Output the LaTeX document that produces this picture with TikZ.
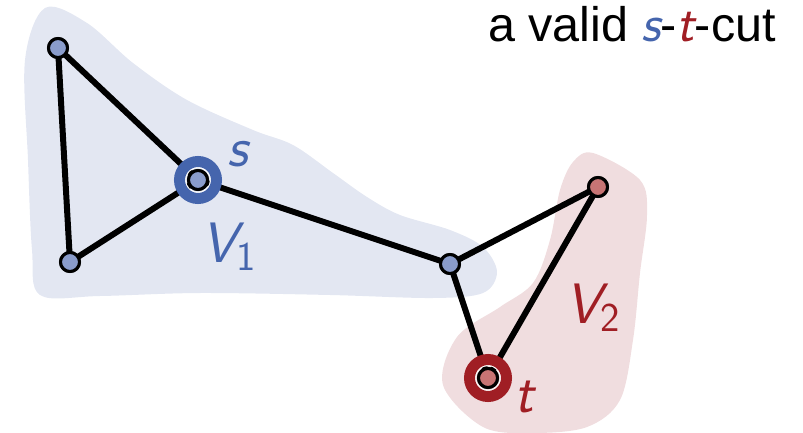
\documentclass[tikz,border=0pt]{standalone}
\usepackage{fontspec}
\setmainfont{Liberation Sans}
\newfontfamily\lmsans{Latin Modern Sans}
\definecolor{bblob}{HTML}{E3E7F2}
\definecolor{rblob}{HTML}{F0DDDF}
\definecolor{bnode}{HTML}{8A9CCB}
\definecolor{rnode}{HTML}{C87474}
\definecolor{bdark}{HTML}{4565AD}
\definecolor{rdark}{HTML}{A01E24}
\newcommand{\mvar}[1]{{\lmsans\itshape #1}}
\tikzset{
  vtx/.style={circle,draw=black,line width=3pt,minimum size=19pt,inner sep=0pt},
  bv/.style={vtx,fill=bnode},
  rv/.style={vtx,fill=rnode},
  edge/.style={line width=6pt,black},
  ringstyle/.style={line width=11pt},
  lbl/.style={inner sep=0pt,font=\fontsize{57}{60}\selectfont}
}
\begin{document}
\begin{tikzpicture}[x=1pt,y=-1pt]
\useasboundingbox (0,0) rectangle (803,433);
% blobs
\fill[bblob] plot[smooth cycle,tension=0.55] coordinates {
 (45,8) (87,23) (133,63) (187,100) (253,130) (293,145) (333,173) (367,197)
 (400,215) (450,230) (483,247) (497,272) (483,293) (433,298) (330,295)
 (200,293) (100,296) (40,295) (32,250) (28,160) (25,60)};
\fill[rblob] plot[smooth cycle,tension=0.55] coordinates {
 (593,153) (640,180) (647,215) (640,273) (633,340) (620,400) (587,427)
 (533,433) (483,427) (443,385) (457,337) (500,307) (533,283) (550,240)
 (560,190) (573,162)};
% vertices
\node[bv] (a) at (58,48) {};
\node[bv] (b) at (70,262) {};
\node[bv] (s) at (198,180) {};
\node[bv] (m) at (450,264) {};
\node[rv] (r) at (598,187) {};
\node[rv] (t) at (488,378) {};
% edges
\draw[edge] (a.center) -- (b.center);
\draw[edge] (a.center) -- (s.center);
\draw[edge] (b.center) -- (s.center);
\draw[edge] (s.center) -- (m.center);
\draw[edge] (m.center) -- (r.center);
\draw[edge] (m.center) -- (t.center);
\draw[edge] (r.center) -- (t.center);
% redraw vertices on top
\foreach \n/\st in {a/bv,b/bv,s/bv,m/bv,r/rv,t/rv}
  \node[\st] at (\n) {};
% rings
\draw[white,line width=2pt] (s) circle[radius=13pt];
\draw[bdark,ringstyle] (s) circle[radius=18.5pt];
\draw[white,line width=2pt] (t) circle[radius=13pt];
\draw[rdark,ringstyle] (t) circle[radius=18.5pt];
% labels
\node[lbl,anchor=base west,text=bdark] (slab) at (227,167) {\mvar{s}};
\node[lbl,anchor=base west,text=bdark] (v1) at (201,262) {\mvar{V}\raisebox{-8pt}{\fontsize{41}{44}\selectfont\lmsans 1}};
\node[lbl,anchor=base west,text=rdark] (tlab) at (514,412) {\mvar{t}};
\node[lbl,anchor=base west,text=rdark] (v2) at (565,323) {\mvar{V}\raisebox{-8pt}{\fontsize{41}{44}\selectfont\lmsans 2}};
\node[inner sep=0pt,anchor=base east,font=\fontsize{48.5}{52}\selectfont] (title) at (776,42)
  {a valid {\color{bdark}\fontsize{53}{54}\selectfont\mvar{s}}-{\color{rdark}\fontsize{53}{54}\selectfont\mvar{t}}-cut};
\end{tikzpicture}
\end{document}
